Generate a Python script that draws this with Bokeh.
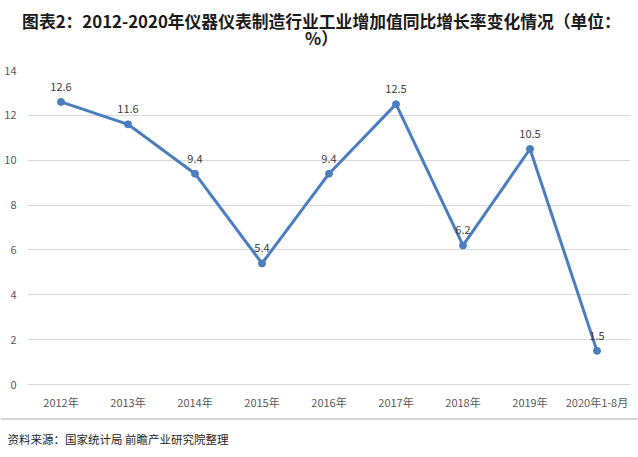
from bokeh.plotting import figure
from bokeh.layouts import column
from bokeh.models import Range1d, ColumnDataSource, FixedTicker, Label, Span
from bokeh.core.properties import value
from bokeh.embed import file_html
from bokeh.resources import INLINE

categories = ["2012年", "2013年", "2014年", "2015年", "2016年", "2017年", "2018年", "2019年", "2020年1-8月"]
growth = [12.6, 11.6, 9.4, 5.4, 9.4, 12.5, 6.2, 10.5, 1.5]
labels = ["12.6", "11.6", "9.4", "5.4", "9.4", "12.5", "6.2", "10.5", "1.5"]
y_ticks = [0, 2, 4, 6, 8, 10, 12, 14]
title_line1 = "图表2：2012-2020年仪器仪表制造行业工业增加值同比增长率变化情况（单位："
title_line2 = "%）"
source_note = "资料来源：国家统计局 前瞻产业研究院整理"

FONT = "Noto Sans CJK SC"
W = 638


def blank(h):
    f = figure(width=W, height=h, x_range=Range1d(0, W), y_range=Range1d(0, h),
               x_axis_type=None, y_axis_type=None, toolbar_location=None,
               output_backend="svg", min_border=0, outline_line_color=None,
               background_fill_color="white", border_fill_color="white",
               frame_align=False)
    f.xgrid.grid_line_color = None
    f.ygrid.grid_line_color = None
    return f


# ---- title block ----
top = blank(56)
top.add_layout(Label(x=321, y=36, text=title_line1, text_font=FONT, text_font_size="16.8px",
                     text_font_style="bold", text_color="#1a1a1a",
                     text_align="center", text_baseline="middle"))
top.add_layout(Label(x=321, y=19, text=title_line2, text_font=FONT, text_font_size="16.8px",
                     text_font_style="bold", text_color="#1a1a1a",
                     text_align="center", text_baseline="middle"))

# ---- chart ----
src = ColumnDataSource(dict(x=categories, y=growth, t=labels))

p = figure(x_range=categories, y_range=Range1d(0, 14), title=None,
           frame_width=603, frame_height=314,
           min_border_left=27, min_border_right=8, min_border_top=14, min_border_bottom=32,
           toolbar_location=None, output_backend="svg", background_fill_color="white",
           border_fill_color="white", outline_line_color=None, frame_align=False)

p.line("x", "y", source=src, line_color="#4a7ebf", line_width=3)
p.scatter("x", "y", source=src, size=7, fill_color="#4a7ebf", line_color="#4a7ebf")
p.text("x", "y", text="t", source=src, text_font=value(FONT), text_font_size="11px",
       text_color="#404040", text_align="center", text_baseline="bottom", y_offset=-11)

p.yaxis.ticker = FixedTicker(ticks=y_ticks)
p.yaxis.axis_line_color = None
p.yaxis.major_tick_line_color = None
p.yaxis.minor_tick_line_color = None
p.yaxis.major_tick_out = 0
p.yaxis.major_tick_in = 0
p.yaxis.major_label_text_font = FONT
p.yaxis.major_label_text_font_size = "11px"
p.yaxis.major_label_text_color = "#595959"
p.yaxis.major_label_standoff = 11

p.xaxis.axis_line_color = "#d9d9d9"
p.xaxis.major_tick_line_color = None
p.xaxis.minor_tick_line_color = None
p.xaxis.major_tick_out = 0
p.xaxis.major_tick_in = 0
p.xaxis.major_label_text_font = FONT
p.xaxis.major_label_text_font_size = "11px"
p.xaxis.major_label_text_color = "#595959"
p.xaxis.major_label_standoff = 9

p.xgrid.grid_line_color = None
p.ygrid.grid_line_color = "#d9d9d9"
p.ygrid.grid_line_width = 1

# ---- source note ----
bottom = blank(41)
bottom.add_layout(Span(location=38.5, dimension="width", line_color="#d4d4d4", line_width=2))
bottom.add_layout(Label(x=7, y=19, text=source_note, text_font=FONT, text_font_size="11.5px",
                        text_color="#262626", text_align="left", text_baseline="middle"))

layout = column(top, p, bottom, spacing=0)

open("out.html", "w").write(file_html(layout, INLINE))
